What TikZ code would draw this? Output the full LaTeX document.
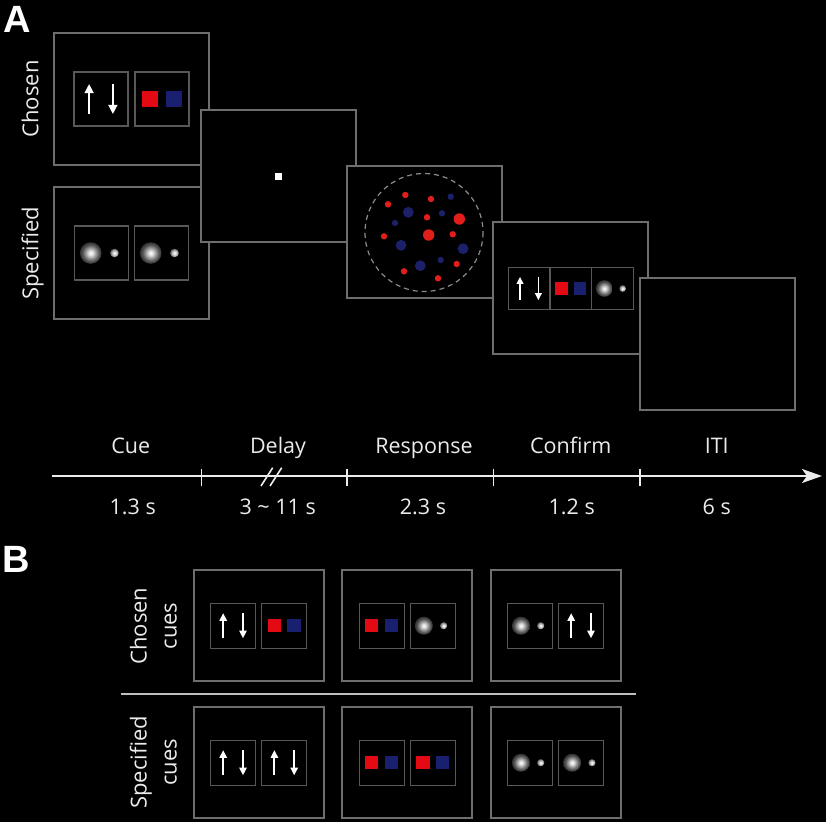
\documentclass[tikz,border=0pt]{standalone}
\usepackage{fontspec}
\setmainfont{Open Sans}
\newfontfamily\panelfont{Liberation Sans}
\usetikzlibrary{arrows.meta}
\definecolor{framegray}{RGB}{110,110,110}
\definecolor{boxgray}{RGB}{88,88,88}
\definecolor{cred}{RGB}{228,10,20}
\definecolor{cblue}{RGB}{26,32,112}
\definecolor{dred}{RGB}{225,30,25}
\definecolor{dblue}{RGB}{28,32,105}
\definecolor{txt}{RGB}{235,235,235}
\pgfdeclareradialshading{bigblob}{\pgfpoint{0bp}{0bp}}{color(0bp)=(white); color(5bp)=(white!88!black); color(12bp)=(white!60!black); color(20bp)=(white!30!black); color(30bp)=(white!10!black); color(40bp)=(black); color(50bp)=(black)}
\pgfdeclareradialshading{smallblob}{\pgfpoint{0bp}{0bp}}{color(0bp)=(white); color(10bp)=(white!85!black); color(25bp)=(white!40!black); color(40bp)=(white!8!black); color(50bp)=(black)}
\tikzset{
  frame/.style={draw=framegray, line width=2pt, fill=black, inner sep=0pt, outer sep=0pt, minimum width=155pt, minimum height=132pt},
  bframe/.style={draw=framegray, line width=2pt, fill=black, inner sep=0pt, outer sep=0pt, minimum width=130pt, minimum height=111pt},
  ibox/.style={draw=boxgray, line width=1.2pt},
  lab/.style={text=txt, font=\fontsize{21.5}{26}\selectfont, inner sep=0pt},
  sidelab/.style={text=txt, font=\fontsize{22}{26}\selectfont, inner sep=0pt, rotate=90, anchor=base},
  panel/.style={text=white, font=\panelfont\bfseries\fontsize{38}{40}\selectfont, inner sep=0pt, anchor=north west},
  tline/.style={draw=txt, line width=2pt},
}
\newcommand\cbArrows[3]{%
\begin{scope}[shift={(#1,#2)},scale=#3]
\pgfmathsetmacro\cbLW{0.042*#3}\pgfmathsetmacro\cbAL{0.17*#3}\pgfmathsetmacro\cbAW{0.16*#3}
\draw[ibox] (-0.5,-0.5) rectangle (0.5,0.5);
\draw[white,line width=\cbLW pt,-{Triangle[length=\cbAL pt,width=\cbAW pt]}] (-0.22,0.28) -- (-0.22,-0.28);
\draw[white,line width=\cbLW pt,-{Triangle[length=\cbAL pt,width=\cbAW pt]}] (0.22,-0.28) -- (0.22,0.28);
\end{scope}}
\newcommand\cbColors[3]{%
\begin{scope}[shift={(#1,#2)},scale=#3]
\draw[ibox] (-0.5,-0.5) rectangle (0.5,0.5);
\fill[cred] (-0.37,-0.15) rectangle (-0.07,0.15);
\fill[cblue] (0.07,-0.15) rectangle (0.37,0.15);
\end{scope}}
\newcommand\cbBlobs[3]{%
\begin{scope}[shift={(#1,#2)},scale=#3]
\draw[ibox] (-0.5,-0.5) rectangle (0.5,0.5);
\shade[shading=bigblob] (-0.2,0) circle[radius=0.2];
\shade[shading=smallblob] (0.24,0) circle[radius=0.08];
\end{scope}}
\begin{document}
\begin{tikzpicture}[x=1pt,y=-1pt]
\fill[black] (0,0) rectangle (826,822);
\useasboundingbox (0,0) rectangle (826,822);

% ---------- Panel A ----------
\node[panel] (pA) at (3,6) {A};
\node[frame] (fChosen) at (131.5,99) {};
\cbArrows{101}{99}{54}
\cbColors{162}{99}{54}
\node[frame] (fSpec) at (131.5,253) {};
\cbBlobs{101.5}{253}{54}
\cbBlobs{161.5}{253}{54}
\node[sidelab] (lChosen) at (38.3,99) {Chosen};
\node[sidelab] (lSpec) at (38.3,253.5) {Specified};

\node[frame] (fDelay) at (278,176) {};
\fill[white] (274.5,172.5) rectangle (281.5,179.5);

\node[frame] (fResp) at (424,232) {};
\draw[draw=white!55!black, line width=1.2pt, dash pattern=on 5pt off 4pt] (424,232.5) circle[radius=59];
\foreach \x/\y/\r in {405.3/195/3.2, 388/204.3/3.2, 431/199/3.2, 427/217.3/3.2, 459.3/219/5.7, 384/236.3/3.2, 428.7/235/5.7, 452.7/234.3/3.2, 404/271.3/3.2, 456.7/264/3.2, 438/278.3/3.2}
  \fill[dred] (\x,\y) circle[radius=\r];
\foreach \x/\y/\r in {450.7/196.7/3.2, 408.3/212.3/5.4, 442/213.3/3.2, 395/223/3.2, 401/245.3/5.4, 463/248.7/5.4, 440.7/260/3.2, 420.3/265.7/5.4}
  \fill[dblue] (\x,\y) circle[radius=\r];

\node[frame] (fConf) at (570.5,288) {};
\cbArrows{529.2}{288.5}{41.7}
\cbColors{570.9}{288.5}{41.7}
\cbBlobs{612.6}{288.5}{41.7}

\node[frame] (fITI) at (717,344) {};

% timeline
\coordinate (t0) at (52,476);
\coordinate (tEnd) at (822,476);
\draw[tline,-{Stealth[length=20pt,width=14pt,inset=5pt]}] (t0) -- (tEnd);
\foreach \x in {201.3,346.7,493.3,640} \draw[tline, line width=1.6pt] (\x,468.5) -- (\x,485.5);
\draw[tline, line width=1.6pt] (261,486) -- (272.7,467.7);
\draw[tline, line width=1.6pt] (270,486) -- (281.7,467.7);

\node[lab, anchor=base] (lCue) at (130.7,453) {Cue};
\node[lab, anchor=base] (lDelay) at (278,453) {Delay};
\node[lab, anchor=base] (lResp) at (424,453) {Response};
\node[lab, anchor=base] (lConf) at (570.7,453) {Confirm};
\node[lab, anchor=base] (lITI) at (716.7,453) {ITI};
\node[lab, anchor=base] (dCue) at (132.7,514) {1.3 s};
\node[lab, anchor=base] (dDelay) at (277.7,514) {3 \textasciitilde{} 11 s};
\node[lab, anchor=base] (dResp) at (423,514) {2.3 s};
\node[lab, anchor=base] (dConf) at (571.7,514) {1.2 s};
\node[lab, anchor=base] (dITI) at (716.7,514) {6 s};

% ---------- Panel B ----------
\node[panel] (pB) at (2,546) {B};
\node[sidelab] (bC1) at (146.7,626) {Chosen};
\node[sidelab] (bC2) at (176.7,626) {cues};
\node[sidelab] (bS1) at (146.7,762.5) {Specified};
\node[sidelab] (bS2) at (176.7,762.5) {cues};

\node[bframe] (b11) at (258.7,625.7) {};
\cbArrows{233.1}{625.7}{45}
\cbColors{284.3}{625.7}{45}
\node[bframe] (b12) at (407.2,625.7) {};
\cbColors{381.6}{625.7}{45}
\cbBlobs{432.8}{625.7}{45}
\node[bframe] (b13) at (555.5,625.7) {};
\cbBlobs{529.9}{625.7}{45}
\cbArrows{581.1}{625.7}{45}

\coordinate (sepL) at (120.7,694.3);
\coordinate (sepR) at (636,694.3);
\draw[draw=white!75!black, line width=1.8pt] (sepL) -- (sepR);

\node[bframe] (b21) at (258.7,762.7) {};
\cbArrows{233.1}{762.7}{45}
\cbArrows{284.3}{762.7}{45}
\node[bframe] (b22) at (407.2,762.7) {};
\cbColors{381.6}{762.7}{45}
\cbColors{432.8}{762.7}{45}
\node[bframe] (b23) at (555.5,762.7) {};
\cbBlobs{529.9}{762.7}{45}
\cbBlobs{581.1}{762.7}{45}
\end{tikzpicture}
\end{document}
